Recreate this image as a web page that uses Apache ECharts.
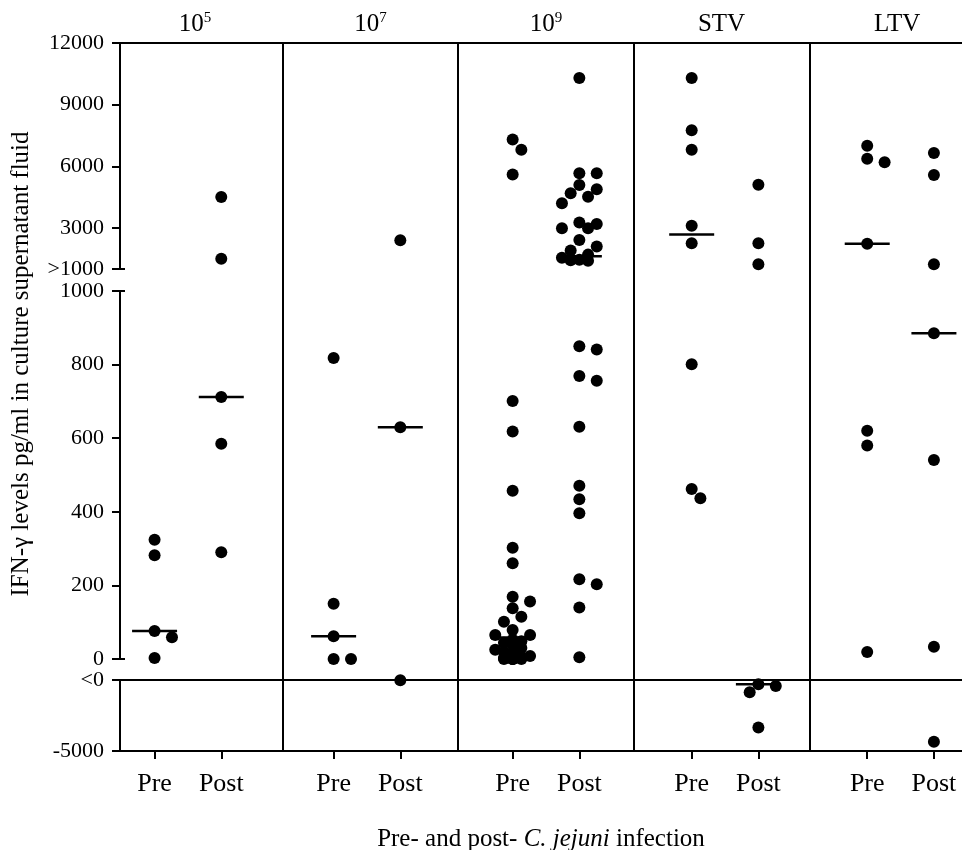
<!DOCTYPE html>
<html>
<head>
<meta charset="utf-8">
<title>IFN-γ pre / post C. jejuni</title>
<script src="https://cdn.jsdelivr.net/npm/echarts@6/dist/echarts.min.js"></script>
<style>
html, body { margin: 0; padding: 0; background: #fff; }
#chart { width: 962px; height: 850px; }
</style>
</head>
<body>
<div id="chart"></div>
<script>
// groups and phases
const groups = ['10{s|5}', '10{s|7}', '10{s|9}', 'STV', 'LTV'];
const phases = ['Pre', 'Post'];

// IFN-γ values pg/ml (negative = "<0" band)
const pre105 = [324, 282, 76, 59, 3];
const post105 = [4500, 1500, 712, 585, 290];
const pre107 = [818, 150, 62, 0, 0];
const post107 = [2400, 630, -20];
const pre109 = [7300, 6800, 5600, 701, 618, 457, 302, 260, 169, 156, 138, 115, 101, 79, 65, 65,
  52, 48, 44, 38, 30, 25, 20, 14, 8, 5, 3, 0, 0, 0, 0, 0];
const post109 = [10300, 5660, 5660, 5090, 4880, 4690, 4520, 4200, 3260, 3190, 2980, 2980, 2410,
  2100, 1900, 1700, 1550, 1450, 1420, 1400,
  850, 841, 769, 756, 631, 471, 434, 396, 217, 203, 140, 5];
const preSTV = [10300, 7750, 6800, 3100, 2250, 801, 462, 437];
const postSTV = [5100, 2250, 1230, -300, -420, -870, -3350];
const preLTV = [7000, 6370, 6195, 2230, 620, 580, 19];
const postLTV = [6650, 5575, 1230, 885, 541, 33, -4345];

const groupValues = [
  [pre105, post105],
  [pre107, post107],
  [pre109, post109],
  [preSTV, postSTV],
  [preLTV, postLTV]
];

// y tick labels of the three axis pieces
const topTicks = [1000, 3000, 6000, 9000, 12000];
const topTickLabels = ['>1000', '3000', '6000', '9000', '12000'];
const lowTicks = [-5000, 0];
const lowTickLabels = ['-5000', '<0'];

// ---- layout ----
const FONT = '"Liberation Serif", "Times New Roman", serif';
const W = 962, LEFT = 120;
const X_MIN = -0.427, X_MAX = 4.37;
const groupCenter = [-0.04, 0.98, 2, 3.02, 4.02];
const phaseShift = [-0.19, 0.19];
const separators = [0.5, 1.5, 2.5, 3.5];
const segs = [
  { min: 1000, max: 12000, top: 43, h: 226 },
  { min: 0, max: 1000, top: 291, h: 368 },
  { min: -5000, max: 0, top: 680, h: 71 }
];
const pxPerX = (W - LEFT) / (X_MAX - X_MIN);

function segOf(v) { return v >= 1000 ? 0 : (v >= 0 ? 1 : 2); }
function pixelY(v) {
  const s = segs[segOf(v)];
  return s.top + s.h * (s.max - v) / (s.max - s.min);
}
function median(a) {
  const s = a.slice().sort((x, y) => x - y);
  const m = Math.floor(s.length / 2);
  return s.length % 2 ? s[m] : (s[m - 1] + s[m]) / 2;
}

// simple beeswarm so that dots with close values sit side by side
function swarm(values, center) {
  const pts = values.map(v => ({ v: v, py: pixelY(v) })).sort((a, b) => a.py - b.py);
  const placed = [];
  const step = 8.7, dmin = 11;
  const distTo = (px, py) => {
    let d = Infinity;
    placed.forEach(q => { d = Math.min(d, Math.hypot(q.px - px, q.py - py)); });
    return d;
  };
  pts.forEach(p => {
    let best = null;
    for (const k of [0, 1, -1, 2, -2]) {
      if (distTo(k * step, p.py) >= dmin) { best = k * step; break; }
    }
    if (best === null) {
      // crowded: let dots overlap in a narrow pile
      let bestD = -1;
      for (const k of [0, 1, -1]) {
        const d = distTo(k * step, p.py);
        if (d > bestD) { bestD = d; best = k * step; }
      }
    }
    p.px = best;
    placed.push(p);
  });
  return pts.map(p => ({ seg: segOf(p.v), value: [center + p.px / pxPerX, p.v] }));
}

const dots = [[], [], []];
const medians = [[], [], []];
const tickPos = [];
const tickLabels = [];
groupValues.forEach((pair, g) => {
  pair.forEach((vals, ph) => {
    const cx = groupCenter[g] + phaseShift[ph];
    tickPos.push(cx);
    tickLabels.push(phases[ph]);
    swarm(vals, cx).forEach(d => dots[d.seg].push(d.value));
    const m = median(vals);
    medians[segOf(m)].push([cx, m]);
  });
});

const line = { color: '#000', width: 2 };
const labelBase = { color: '#000', fontFamily: FONT };

let chartInit = echarts.init(document.getElementById('chart'));

const hiddenX = (gi, extra) => Object.assign({
  type: 'value', gridIndex: gi, min: X_MIN, max: X_MAX,
  axisLabel: { show: false }, axisTick: { show: false }, splitLine: { show: false },
  axisLine: { show: false, onZero: false }
}, extra || {});

const yLine = { show: true, onZero: false, lineStyle: line };
const gridAt = (top, h) => ({ left: LEFT, right: 0, top: top, height: h, outerBoundsMode: 'none', containLabel: false });

const option = {
  animation: false,
  backgroundColor: '#fff',
  grid: [
    gridAt(segs[0].top, segs[0].h),
    gridAt(segs[1].top, segs[1].h),
    gridAt(segs[2].top, segs[2].h),
    gridAt(segs[0].top, segs[2].top + segs[2].h - segs[0].top)
  ],
  xAxis: [
    hiddenX(0),
    hiddenX(1),
    hiddenX(2, { position: 'top', axisLine: { show: true, onZero: false, lineStyle: line } }),
    hiddenX(3, {
      position: 'bottom',
      axisLine: { show: true, onZero: false, lineStyle: line },
      axisTick: { show: true, customValues: tickPos, length: 8, lineStyle: line },
      axisLabel: {
        show: true, customValues: tickPos, margin: 20, fontSize: 26, ...labelBase,
        formatter: v => tickLabels[tickPos.findIndex(p => Math.abs(p - v) < 1e-6)] || ''
      },
      name: 'Pre- and post- {i|C. jejuni} infection',
      nameLocation: 'middle',
      nameGap: 76,
      nameTextStyle: {
        fontSize: 25, ...labelBase,
        rich: { i: { fontSize: 25, fontStyle: 'italic', ...labelBase } }
      }
    }),
    hiddenX(3, {
      position: 'top',
      axisLine: { show: true, onZero: false, lineStyle: line },
      axisLabel: {
        show: true, customValues: [0, 1, 2, 3, 4], margin: 6, fontSize: 25, ...labelBase,
        lineHeight: 26,
        formatter: v => groups[Math.round(v)],
        rich: { s: { fontSize: 15, lineHeight: 15, verticalAlign: 'top', ...labelBase } }
      }
    })
  ],
  yAxis: [
    {
      type: 'value', gridIndex: 0, min: segs[0].min, max: segs[0].max, position: 'left',
      axisLine: yLine,
      axisTick: { show: true, customValues: topTicks, length: 8, lineStyle: line },
      axisLabel: {
        customValues: topTicks, margin: 16, fontSize: 22, ...labelBase,
        formatter: v => topTickLabels[topTicks.indexOf(v)]
      },
      splitLine: { show: false }
    },
    {
      type: 'value', gridIndex: 0, min: segs[0].min, max: segs[0].max, position: 'left',
      axisLine: { show: false, onZero: false },
      axisTick: { show: true, inside: true, customValues: [1000], length: 5, lineStyle: line },
      axisLabel: { show: false }, splitLine: { show: false }
    },
    {
      type: 'value', gridIndex: 1, min: 0, max: 1000, interval: 200, position: 'left',
      axisLine: yLine,
      axisTick: { show: true, length: 8, lineStyle: line },
      axisLabel: { margin: 16, fontSize: 22, ...labelBase, formatter: v => String(v) },
      splitLine: { show: false }
    },
    {
      type: 'value', gridIndex: 1, min: 0, max: 1000, position: 'left',
      axisLine: { show: false, onZero: false },
      axisTick: { show: true, inside: true, customValues: [0, 1000], length: 5, lineStyle: line },
      axisLabel: { show: false }, splitLine: { show: false }
    },
    {
      type: 'value', gridIndex: 2, min: segs[2].min, max: segs[2].max, position: 'left',
      axisLine: yLine,
      axisTick: { show: true, customValues: lowTicks, length: 8, lineStyle: line },
      axisLabel: {
        customValues: lowTicks, margin: 16, fontSize: 22, ...labelBase,
        formatter: v => lowTickLabels[lowTicks.indexOf(v)]
      },
      splitLine: { show: false }
    },
    {
      type: 'value', gridIndex: 3, min: 0, max: 1, position: 'left',
      axisLine: { show: false, onZero: false }, axisTick: { show: false }, axisLabel: { show: false },
      splitLine: { show: false },
      name: 'IFN-γ levels pg/ml in culture supernatant fluid',
      nameLocation: 'middle', nameRotate: 90, nameGap: 86,
      nameTextStyle: { fontSize: 25, ...labelBase, padding: [0, 0, 0, 66] }
    }
  ],
  series: [
    { type: 'scatter', xAxisIndex: 0, yAxisIndex: 0, data: dots[0] },
    { type: 'scatter', xAxisIndex: 1, yAxisIndex: 2, data: dots[1] },
    { type: 'scatter', xAxisIndex: 2, yAxisIndex: 4, data: dots[2] },
    { type: 'scatter', xAxisIndex: 0, yAxisIndex: 0, data: medians[0], symbol: 'rect', symbolSize: [45, 2.5] },
    { type: 'scatter', xAxisIndex: 1, yAxisIndex: 2, data: medians[1], symbol: 'rect', symbolSize: [45, 2.5] },
    { type: 'scatter', xAxisIndex: 2, yAxisIndex: 4, data: medians[2], symbol: 'rect', symbolSize: [45, 2.5] },
    {
      type: 'scatter', xAxisIndex: 3, yAxisIndex: 5, data: [],
      markLine: {
        silent: true, symbol: ['none', 'none'], label: { show: false },
        lineStyle: { color: '#000', width: 2, type: 'solid' },
        data: separators.map(x => ({ xAxis: x }))
      }
    }
  ].map(s => Object.assign({ symbolSize: 12, itemStyle: { color: '#000', opacity: 1 }, clip: false, silent: true }, s))
};
chartInit.setOption(option, true);
</script>
</body>
</html>
